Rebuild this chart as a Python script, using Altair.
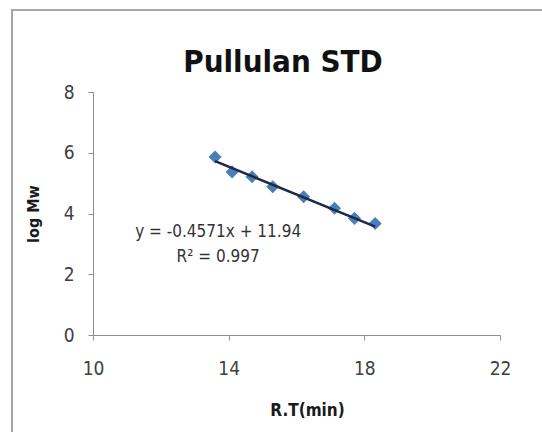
import altair as alt
import pandas as pd

# Pullulan standards: retention time vs log molecular weight
rt_min = [13.60, 14.10, 14.69, 15.30, 16.21, 17.12, 17.71, 18.32]
log_mw = [5.86, 5.37, 5.21, 4.88, 4.55, 4.17, 3.84, 3.67]

# Linear calibration fit
slope = -0.4571
intercept = 11.94
r_squared = 0.997

eq_lines = [f"y = {slope}x + {intercept}", f"R\u00b2 = {r_squared}"]
eq_x = [13.69, 13.69]
eq_y = [3.39, 2.57]

chart_title = "Pullulan STD"

FONT = "DejaVu Sans Condensed, Liberation Sans, sans-serif"
BLUE = "#4a7ebb"

points = pd.DataFrame({"rt": rt_min, "logmw": log_mw})
fit = pd.DataFrame({"rt": [min(rt_min), max(rt_min)]})
fit["logmw"] = intercept + slope * fit["rt"]
labels = pd.DataFrame({"x": eq_x, "y": eq_y, "text": eq_lines})

x_scale = alt.Scale(domain=[10, 22], nice=False, zero=False)
y_scale = alt.Scale(domain=[0, 8], nice=False)

x_axis = alt.Axis(
    values=[10, 14, 18, 22], title="R.T(min)", grid=False, labelFlush=False,
    titleFontSize=17, titleFont=FONT, titleFontWeight="bold", titleColor="#1a1a1a",
    titlePadding=24, titleX=214, titleAlign="center",
    labelFontSize=19, labelFont=FONT, labelColor="#404040",
    labelPadding=19, tickSize=5, domainColor="#8c8c8c", tickColor="#8c8c8c",
)
y_axis = alt.Axis(
    values=[0, 2, 4, 6, 8], title="log Mw", grid=False, labelFlush=False,
    titleFontSize=16, titleFont=FONT, titleFontWeight="bold", titleColor="#1a1a1a",
    titlePadding=22, labelFontSize=19, labelFont=FONT, labelColor="#404040",
    labelPadding=14, tickSize=5, domainColor="#8c8c8c", tickColor="#8c8c8c",
)

# Outer chart-area frame
frame = alt.Chart(pd.DataFrame({"k": [0]})).mark_rect(
    fill=None, stroke="#a6a6a6", strokeWidth=2
).encode(
    x=alt.value(-81), x2=alt.value(470), y=alt.value(-82), y2=alt.value(360)
)

# Chart heading, centred over the chart area
heading = alt.Chart(pd.DataFrame({"t": [chart_title]})).mark_text(
    font=FONT, fontSize=31, fontWeight="bold", color="#111111",
    align="center", baseline="alphabetic"
).encode(x=alt.value(190), y=alt.value(-20), text="t:N")

markers = alt.Chart(points).mark_point(
    shape="diamond", filled=True, size=170, color=BLUE, opacity=1
).encode(
    x=alt.X("rt:Q", scale=x_scale, axis=x_axis),
    y=alt.Y("logmw:Q", scale=y_scale, axis=y_axis),
)

trend = alt.Chart(fit).mark_line(color="#1c2a48", strokeWidth=2.5).encode(
    x=alt.X("rt:Q", scale=x_scale),
    y=alt.Y("logmw:Q", scale=y_scale),
)

equation = alt.Chart(labels).mark_text(
    font=FONT, fontSize=17, color="#333333", align="center", baseline="middle"
).encode(
    x=alt.X("x:Q", scale=x_scale),
    y=alt.Y("y:Q", scale=y_scale),
    text="text:N",
)

chart = (
    alt.layer(frame, heading, markers, trend, equation)
    .properties(
        width=407,
        height=243,
        autosize=alt.AutoSizeParams(type="none"),
        padding={"left": 93, "top": 92, "right": 42, "bottom": 97},
        background="white",
    )
    .configure_view(stroke=None)
)

chart.save("out.html", embed_options={"renderer": "svg", "actions": False})
